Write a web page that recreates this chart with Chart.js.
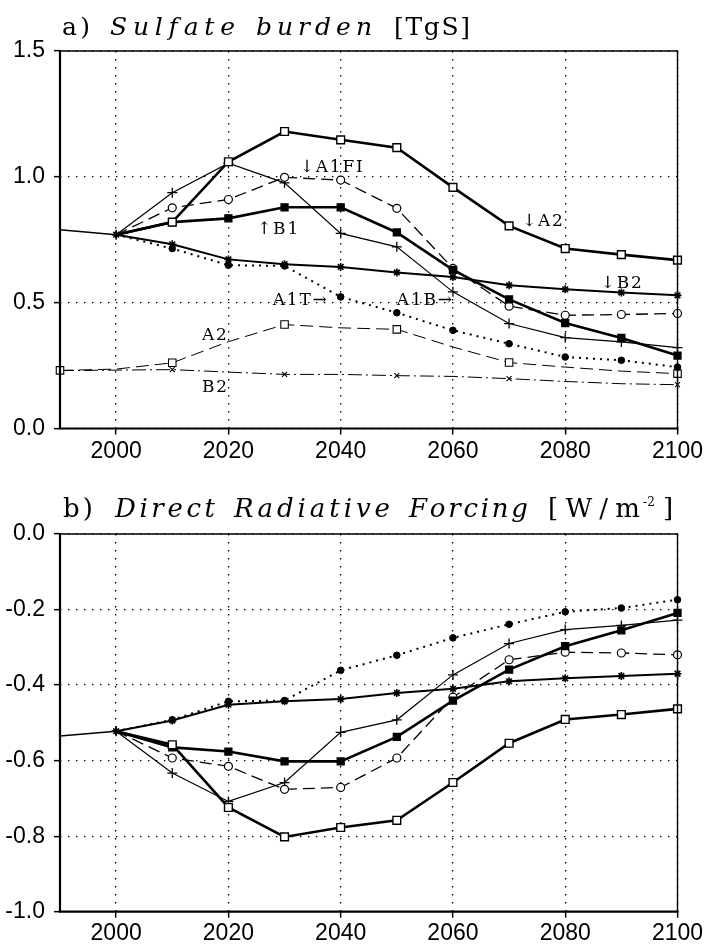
<!DOCTYPE html>
<html><head><meta charset="utf-8">
<script src="https://cdn.jsdelivr.net/npm/chart.js@4.4.1/dist/chart.umd.min.js"></script>
<style>
html,body{margin:0;padding:0;background:#fff;}
#wrap{position:relative;width:707px;height:947px;overflow:hidden;background:#fff;}
.box{position:absolute;left:0;width:707px;}
</style></head><body>
<div id="wrap">
<div class="box" style="top:0;height:470px"><canvas id="ca"></canvas></div>
<div class="box" style="top:470px;height:477px"><canvas id="cb"></canvas></div>
</div>
<script>
// ---------- DATA ----------
const years    = [2000,2010,2020,2030,2040,2050,2060,2070,2080,2090,2100];
const histYears= [1990,2000];
const lowYears = [1990,2000,2010,2020,2030,2040,2050,2060,2070,2080,2090,2100];
const xTickValues  = [2000,2020,2040,2060,2080,2100];
const yTickValuesA = [0,0.5,1.0,1.5];
const yTickValuesB = [0,-0.2,-0.4,-0.6,-0.8,-1.0];

// a) Sulfate burden [TgS]
const burdenA2   = [0.77,0.82,1.06,1.18,1.147,1.116,0.958,0.805,0.715,0.691,0.669];
const burdenA1FI = [0.77,0.877,0.91,0.998,0.987,0.875,0.636,0.486,0.45,0.453,0.457];
const burdenB1   = [0.77,0.82,0.835,0.879,0.879,0.779,0.63,0.513,0.419,0.36,0.29];
const burdenB2   = [0.77,0.732,0.672,0.653,0.642,0.62,0.602,0.569,0.553,0.54,0.529];
const burdenA1T  = [0.77,0.715,0.649,0.646,0.523,0.46,0.39,0.337,0.284,0.271,0.244];
const burdenA1B  = [0.77,0.937,1.054,0.976,0.775,0.722,0.543,0.417,0.361,0.344,0.321];
const burdenHist = [0.79,0.77];
const burdenA2low= [0.231,0.236,0.261,0.345,0.413,0.40,0.394,0.324,0.262,0.244,0.228,0.218];
const burdenB2low= [0.23,0.232,0.234,0.224,0.215,0.215,0.21,0.207,0.198,0.187,0.178,0.174];

// b) Direct Radiative Forcing [W/m-2]
const forcA2   = [-0.522,-0.558,-0.724,-0.802,-0.777,-0.758,-0.658,-0.554,-0.491,-0.478,-0.463];
const forcA1FI = [-0.522,-0.593,-0.615,-0.676,-0.671,-0.593,-0.432,-0.333,-0.313,-0.315,-0.32];
const forcB1   = [-0.522,-0.565,-0.576,-0.602,-0.602,-0.537,-0.441,-0.359,-0.297,-0.255,-0.209];
const forcB2   = [-0.522,-0.494,-0.452,-0.443,-0.437,-0.421,-0.41,-0.39,-0.382,-0.376,-0.37];
const forcA1T  = [-0.522,-0.492,-0.443,-0.441,-0.361,-0.321,-0.275,-0.239,-0.206,-0.196,-0.174];
const forcA1B  = [-0.522,-0.633,-0.708,-0.658,-0.525,-0.492,-0.373,-0.29,-0.253,-0.242,-0.228];
const forcHist = [-0.535,-0.522];

// in-plot labels (text, year, value at text baseline-left)
const labelTextsA  = ['\u2193A1FI','\u2191B1','A1T\u2192','A1B\u2192','A2','B2','\u2193A2','\u2193B2'];
const labelYearsA  = [2032.7,2025.1,2027.9,2050.0,2015.3,2015.3,2072.3,2086.3];
const labelValuesA = [1.018,0.774,0.491,0.491,0.352,0.145,0.806,0.559];

// ---------- STYLES ----------
const ST = {
  A2:   {pointStyle:'rect', r:5.5, fill:'#fff', lw:2.6, dash:[], pbw:1.4},
  B1:   {pointStyle:'rect', r:5,   fill:'#000', lw:2.6, dash:[], pbw:1.2},
  A1FI: {pointStyle:'circle', r:4, fill:'#fff', lw:1.3, dash:[12,6], pbw:1.2},
  A1B:  {pointStyle:'cross', r:5, fill:'#000', lw:1.2, dash:[], pbw:1.3, first:true},
  B2:   {pointStyle:'star', r:4, fill:'#000', lw:2.0, dash:[], pbw:1.6, first:true},
  A1T:  {pointStyle:'circle', r:3.3, fill:'#000', lw:2.0, dash:[2,5], pbw:1},
  A2low:{pointStyle:'rect', r:5.3, fill:'#fff', lw:1.0, dash:[13,6], pbw:1.1, marks:[0,2,4,6,8,11]},
  B2low:{pointStyle:'crossRot', r:3.5, fill:'#000', lw:1.0, dash:[14,4,2,4], pbw:1.1, marks:[2,4,6,8,11]},
  hist: {pointStyle:'circle', r:0, fill:'#000', lw:1.5, dash:[], pbw:1}
};

function ds(label, xs, ys, st){
  const radius = ys.map((_,i)=>{
    if (st.marks) return st.marks.includes(i) ? st.r : 0;
    if (i===0 && !st.first) return 0;
    return st.r;
  });
  return {
    label, data: xs.map((x,i)=>({x, y: ys[i]})),
    borderColor:'#000', borderWidth: st.lw, borderDash: st.dash,
    pointStyle: st.pointStyle, pointRadius: radius, pointHoverRadius: radius,
    pointBackgroundColor: st.fill, pointBorderColor:'#000', pointBorderWidth: st.pbw,
    tension:0, fill:false, clip:false, spanGaps:true
  };
}

const tickFont = {family:'"Liberation Sans", Arial, sans-serif', size:23};
const gridCfg = {color:'#000', lineWidth:1.3, drawTicks:true, tickLength:6,
                 tickColor:'#000', tickWidth:1.5, tickBorderDash:[]};
const borderCfg = {display:false, dash:[1.4,6.6]};

function xScale(h, pad){
  return {
    type:'linear', min:1990, max:2100,
    afterBuildTicks: s => { s.ticks = xTickValues.map(v=>({value:v})); },
    afterFit: s => { s.height = h; },
    grid: gridCfg, border: borderCfg,
    ticks:{font:tickFont, color:'#000', padding:pad, maxRotation:0, autoSkip:false,
           callback: v => String(v)}
  };
}
function yScale(min, max, vals){
  return {
    type:'linear', min, max,
    afterBuildTicks: s => { s.ticks = vals.map(v=>({value:v})); },
    afterFit: s => { s.width = 60; },
    grid: gridCfg, border: borderCfg,
    ticks:{font:tickFont, color:'#000', padding:9, autoSkip:false,
           callback: v => (Math.abs(v)<1e-9 ? 0 : v).toFixed(1)}
  };
}

// frame
const framePlugin = {
  id:'frame',
  afterDatasetsDraw(chart){
    const {ctx, chartArea:a} = chart;
    ctx.save(); ctx.strokeStyle='#000'; ctx.setLineDash([]);
    ctx.lineWidth=1.4;
    ctx.beginPath(); ctx.moveTo(a.left,a.top); ctx.lineTo(a.right,a.top); ctx.lineTo(a.right,a.bottom); ctx.stroke();
    ctx.lineWidth=2.2;
    ctx.beginPath(); ctx.moveTo(a.left,a.top-1); ctx.lineTo(a.left,a.bottom); ctx.lineTo(a.right+1,a.bottom); ctx.stroke();
    ctx.restore();
  }
};

function drawSpaced(ctx, text, x, y, ls){
  for (const ch of text){ ctx.fillText(ch, x, y); x += ctx.measureText(ch).width + ls; }
  return x;
}
function drawFit(ctx, text, x0, x1, y){
  let w=0; const chars=[...text];
  chars.forEach(c=> w+=ctx.measureText(c).width);
  const ls = chars.length>1 ? (x1-x0-w)/(chars.length-1) : 0;
  drawSpaced(ctx, text, x0, y, ls);
}

// in-plot labels
const labelPlugin = {
  id:'plotLabels',
  afterDatasetsDraw(chart, args, opts){
    if (!opts.texts) return;
    const {ctx, scales:{x, y}} = chart;
    ctx.save(); ctx.fillStyle='#000'; ctx.textBaseline='alphabetic'; ctx.textAlign='left';
    ctx.font = '17px "DejaVu Serif", serif';
    opts.texts.forEach((t,i)=>{
      drawSpaced(ctx, t, x.getPixelForValue(opts.years[i]), y.getPixelForValue(opts.values[i]), 1.8);
    });
    ctx.restore();
  }
};

// titles
const titlePlugin = {
  id:'panelTitle',
  afterDraw(chart, args, opts){
    if (!opts.parts) return;
    const ctx = chart.ctx;
    ctx.save(); ctx.fillStyle='#000'; ctx.textBaseline='alphabetic'; ctx.textAlign='left';
    opts.parts.forEach(p=>{
      ctx.font = (p.italic?'italic ':'') + p.size + 'px "DejaVu Serif", serif';
      drawFit(ctx, p.text, p.x0, p.x1, opts.baseline - (p.raise||0));
    });
    ctx.restore();
  }
};

Chart.register(framePlugin, labelPlugin, titlePlugin);

const commonOpts = (xs, ys, padTop, titleCfg, labelsCfg) => ({
  responsive:true, maintainAspectRatio:false, animation:false,
  layout:{padding:{top:padTop, right:29.5, left:0, bottom:0}},
  scales:{x:xs, y:ys},
  plugins:{legend:{display:false}, tooltip:{enabled:false}, title:{display:false},
           panelTitle:titleCfg, plotLabels:labelsCfg},
  events:[]
});

new Chart(document.getElementById('ca'), {
  type:'line',
  data:{datasets:[
    ds('A2', years, burdenA2, ST.A2),
    ds('B1', years, burdenB1, ST.B1),
    ds('A1FI', years, burdenA1FI, ST.A1FI),
    ds('A1B', years, burdenA1B, ST.A1B),
    ds('B2', years, burdenB2, ST.B2),
    ds('A1T', years, burdenA1T, ST.A1T),
    ds('A2 (lower)', lowYears, burdenA2low, ST.A2low),
    ds('B2 (lower)', lowYears, burdenB2low, ST.B2low),
    ds('1990-2000', histYears, burdenHist, ST.hist)
  ]},
  options: commonOpts(xScale(41.5, 3), yScale(0, 1.5, yTickValuesA), 51,
    {baseline:35, parts:[
      {text:'a)', x0:62, x1:90, size:25},
      {text:'Sulfate', x0:110, x1:235, size:25, italic:true},
      {text:'burden', x0:256, x1:372, size:25, italic:true},
      {text:'[TgS]', x0:394, x1:470, size:25}
    ]},
    {texts:labelTextsA, years:labelYearsA, values:labelValuesA})
});

new Chart(document.getElementById('cb'), {
  type:'line',
  data:{datasets:[
    ds('A2', years, forcA2, ST.A2),
    ds('B1', years, forcB1, ST.B1),
    ds('A1FI', years, forcA1FI, ST.A1FI),
    ds('A1B', years, forcA1B, ST.A1B),
    ds('B2', years, forcB2, ST.B2),
    ds('A1T', years, forcA1T, ST.A1T),
    ds('1990-2000', histYears, forcHist, ST.hist)
  ]},
  options: commonOpts(xScale(35.3, 2), yScale(-1.0, 0, yTickValuesB), 64,
    {baseline:47, parts:[
      {text:'b)', x0:63, x1:93, size:26},
      {text:'Direct', x0:115, x1:215, size:26, italic:true},
      {text:'Radiative', x0:234, x1:390, size:26, italic:true},
      {text:'Forcing', x0:409, x1:528, size:26, italic:true},
      {text:'[W/m', x0:548, x1:640, size:26},
      {text:'-2', x0:643, x1:655, size:12, raise:11},
      {text:']', x0:663, x1:675, size:26}
    ]},
    {})
});
</script>
</body></html>
